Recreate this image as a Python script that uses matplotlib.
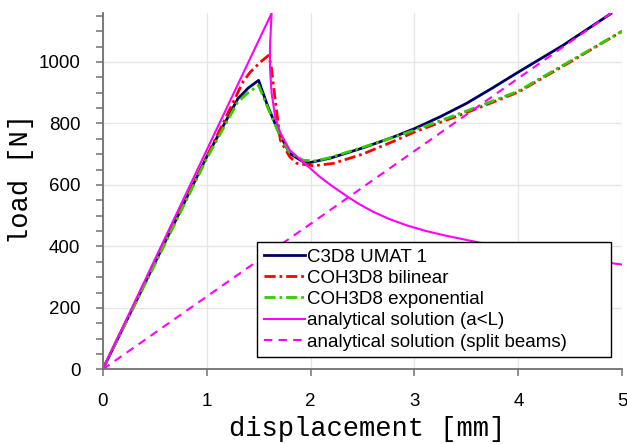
import numpy as np
import matplotlib
matplotlib.use('Agg')
import matplotlib.pyplot as plt
from matplotlib.ticker import MultipleLocator

# displacement [mm] / load [N]
x_umat = [0, 0.5, 1.0, 1.3, 1.4, 1.5, 1.59, 1.70, 1.80, 1.93, 2.0, 2.2, 2.5, 2.8, 3.0, 3.25, 3.5, 3.75, 4.0, 4.43, 4.89]
p_umat = [0, 345, 691, 880, 915, 940, 854, 767, 702, 675, 673, 688, 720, 756, 783, 822, 865, 915, 967, 1054, 1157]

x_bilin = [0, 0.5, 1.0, 1.35, 1.42, 1.52, 1.595, 1.62, 1.66, 1.71, 1.80, 1.87, 2.03, 2.22, 2.5, 2.8, 3.0, 3.5, 4.0, 4.5, 5.0]
p_bilin = [0, 345, 690, 935, 967, 1000, 1021, 990, 875, 745, 691, 670, 662, 670, 700, 742, 772, 835, 902, 1000, 1100]

x_expo = [0, 0.5, 1.0, 1.3, 1.4, 1.5, 1.59, 1.70, 1.80, 1.93, 2.05, 2.2, 2.5, 2.8, 3.0, 3.5, 4.0, 4.5, 5.0]
p_expo = [0, 340, 685, 870, 900, 924, 850, 765, 705, 680, 678, 690, 722, 755, 778, 840, 905, 1003, 1100]

x_anal = [0, 1.625, 1.61, 1.61, 1.625, 1.66, 1.71, 1.80, 1.91, 2.0, 2.09, 2.2, 2.35, 2.47, 2.60, 2.75, 2.92, 3.1,
          3.3, 3.6, 4.0, 4.5, 5.0]
p_anal = [0, 1158, 1050, 980, 900, 820, 769, 713, 680, 653, 626, 598, 563, 537, 513, 490, 469, 451,
          435, 414, 390, 363, 341]

x_split = [0, 4.9]
p_split = [0, 1160]

fig = plt.figure(figsize=(6.27, 4.44), dpi=100)
ax = fig.add_axes([0.1638, 0.168, 0.8287, 0.8034])

ax.plot(x_umat, p_umat, color='#000066', lw=2.0, label='C3D8 UMAT 1')
ax.plot(x_bilin, p_bilin, color='#ff0000', lw=2.0, dashes=(4, 1.4, 1, 1.4), label='COH3D8 bilinear')
ax.plot(x_expo, p_expo, color='#33cc00', lw=2.0, dashes=(4, 1.4, 1, 1.4), label='COH3D8 exponential')
ax.plot(x_anal, p_anal, color='#ff00ff', lw=1.5, label='analytical solution (a<L)')
ax.plot(x_split, p_split, color='#ff00ff', lw=1.5, dashes=(4, 3), label='analytical solution (split beams)')

ax.set_xlim(0, 5)
ax.set_ylim(0, 1160)
ax.xaxis.set_major_locator(MultipleLocator(1))
ax.yaxis.set_major_locator(MultipleLocator(200))
ax.yaxis.set_minor_locator(MultipleLocator(50))

ax.grid(True, color='#e6e6e6', lw=1)
ax.set_axisbelow(True)
for s in ['top', 'right']:
    ax.spines[s].set_visible(False)
for s in ['left', 'bottom']:
    ax.spines[s].set_color('#707070')
    ax.spines[s].set_linewidth(1.3)

ax.tick_params(which='both', direction='out', color='#707070', width=1.1,
               labelsize=13.5, labelcolor='black', length=5)
ax.tick_params(axis='x', pad=12)
ax.tick_params(axis='y', pad=11)
for lab in ax.get_xticklabels() + ax.get_yticklabels():
    lab.set_family('Liberation Sans')

ax.set_xlabel('displacement [mm]', family='Liberation Mono', fontsize=19.5)
ax.xaxis.set_label_coords(0.508, -0.13)
ax.set_ylabel('load [N]', family='Liberation Mono', fontsize=19.5)
ax.yaxis.set_label_coords(-0.133, 0.535)

leg = ax.legend(loc='lower left', bbox_to_anchor=(0.297, 0.0345, 0.681, 0.33),
                mode='expand', prop={'family': 'Liberation Sans', 'size': 13.5},
                handlelength=2.2, handletextpad=0.12, labelspacing=0.22,
                borderpad=0.35, borderaxespad=0, fancybox=False,
                framealpha=1, edgecolor='black')
leg.get_frame().set_linewidth(1.0)

fig.savefig('out.png', dpi=100)
